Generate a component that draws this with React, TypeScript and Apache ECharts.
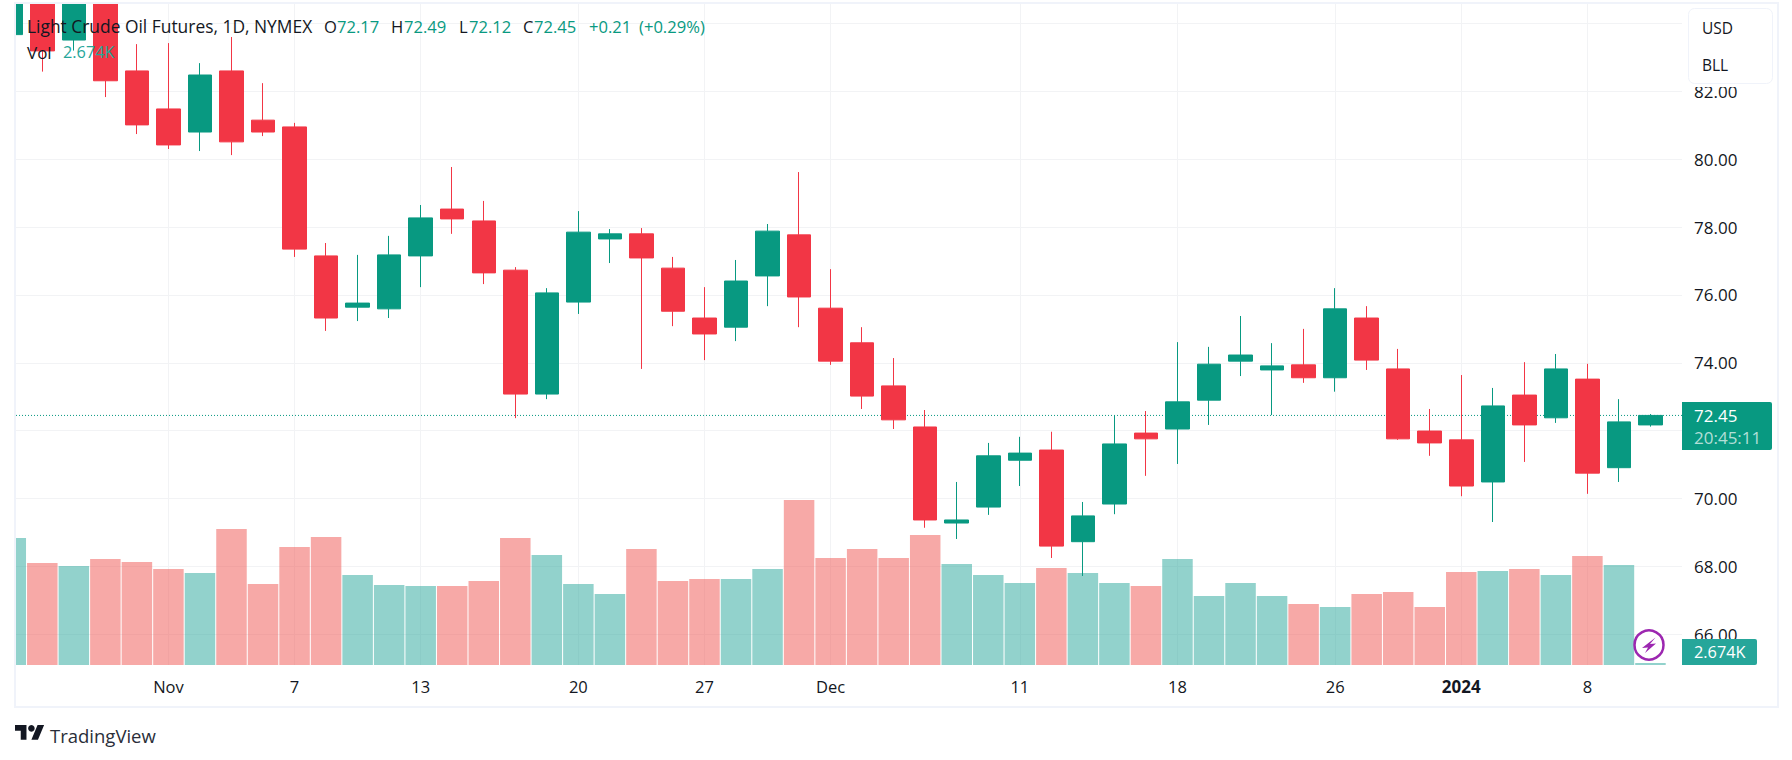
import React, { useEffect, useRef } from "react";
import * as echarts from "echarts";

const opens = [83.67,85.2,83.51,85.4,82.6,81.48,80.8,82.6,81.15,80.95,77.15,75.64,75.59,77.15,78.53,78.18,76.73,73.08,75.79,77.65,77.8,76.79,75.32,75.05,76.56,77.77,75.61,74.59,73.32,72.11,69.28,69.75,71.13,71.43,68.73,69.84,71.93,72.05,72.9,74.05,73.79,73.94,73.56,75.32,73.82,71.99,71.73,70.49,73.05,72.38,73.52,70.91,72.17];
const closes = [85,83.19,85.3,82.31,81.01,80.42,82.48,80.51,80.8,77.35,75.32,75.76,77.18,78.27,78.24,76.65,73.08,76.06,77.85,77.8,77.09,75.52,74.85,76.41,77.88,75.94,74.05,73.02,72.32,69.37,69.37,71.26,71.34,68.6,69.49,71.61,71.76,72.85,73.96,74.23,73.91,73.56,75.59,74.08,71.76,71.64,70.37,72.73,72.17,73.82,70.75,72.26,72.45];
const lows = [83.4,82.58,83.2,81.83,80.74,80.3,80.24,80.12,80.68,77.12,74.94,75.23,75.32,76.23,77.8,76.32,72.37,72.93,75.44,76.94,73.82,75.08,74.08,74.64,75.67,75.05,73.94,72.64,72.05,69.14,68.81,69.52,70.37,68.25,67.72,69.54,70.67,71.02,72.17,73.61,72.46,73.41,73.15,73.79,71.73,71.26,70.07,69.31,71.08,72.23,70.14,70.49,72.12];
const highs = [85.2,85.5,85.5,85.6,83.39,83.42,82.83,83.6,82.24,81.07,77.53,77.18,77.74,78.65,79.77,78.77,76.82,76.2,78.47,77.94,77.97,77.12,76.23,77.03,78.09,79.62,76.76,75.05,74.14,72.61,70.49,71.64,71.82,71.97,69.9,72.46,72.58,74.61,74.47,75.38,74.58,75,76.2,75.67,74.41,72.64,73.64,73.26,74.02,74.26,73.97,72.93,72.49];
const volumes = [169.8,136.4,132.4,141.8,137.8,128.4,123,181.9,108.3,157.8,171.2,120.4,107,105.7,105.7,112.3,169.8,147.1,108.3,95,155.1,112.3,115,115,128.4,220.7,143.1,155.1,143.1,173.9,135.1,120.4,109.7,129.7,123,109.7,105.7,141.8,92.3,109.7,92.3,81.6,77.6,95,97.6,77.6,124.4,125.7,128.4,120.4,145.8,133.7,2.674];

const timeTickIndices = [5, 9, 13, 18, 22, 26, 32, 37, 42, 46, 50];
const timeTickLabels = ["Nov", "7", "13", "20", "27", "Dec", "11", "18", "26", "2024", "8"];
const priceGridTicks = [66, 68, 70, 72, 74, 76, 78, 80, 82, 84];
const priceLabelTicks = [66, 68, 70, 74, 76, 78, 80, 82];
const lastPrice = 72.45;

const UP = "#089981";
const DOWN = "#F23645";
const VOL_UP = "rgba(38,166,154,0.5)";
const VOL_DOWN = "rgba(239,83,80,0.5)";
const INK = "#131722";
const GRID = "#f2f3f5";
const FONT = "'Open Sans', sans-serif";

const TV_T = "M14 25H7V14H0V7h14v18zM28 25h-8l7.5-18h8L28 25z";

export default function App() {
  const ref = useRef<HTMLDivElement>(null);
  useEffect(() => {
    echarts.graphic.registerShape("tvlogo", echarts.graphic.extendPath(TV_T, {}));
    const chart = echarts.init(ref.current!, null, { renderer: "svg", width: 1792, height: 760 });

    const xMin = 0.166;
    const xMax = 53;
    const candleData = opens.map((o, i) => [i, o, closes[i], lows[i], highs[i]]);
    const volData = volumes.map((v, i) => ({
      value: [i, v],
      itemStyle: { color: closes[i] >= opens[i] ? VOL_UP : VOL_DOWN },
    }));

    const txt = (text: string, x: number, y: number, fill: string, fontSize = 16.6) => ({
      type: "text",
      z: 100,
      x,
      y,
      style: { text, fill, font: `normal ${fontSize}px ${FONT}`, verticalAlign: "middle" },
    });

    chart.setOption({
      animation: false,
      backgroundColor: "#ffffff",
      grid: { left: 16, right: 110, top: 4, bottom: 95, containLabel: false },
      xAxis: {
        type: "value",
        min: xMin,
        max: xMax,
        axisLine: { show: false },
        axisTick: { show: false, customValues: timeTickIndices },
        splitLine: { show: true, lineStyle: { color: GRID, width: 1 } },
        axisLabel: {
          customValues: timeTickIndices,
          color: INK,
          fontFamily: FONT,
          fontSize: 16.5,
          margin: 13,
          formatter: (v: number) => {
            const label = timeTickLabels[timeTickIndices.indexOf(v)] ?? "";
            return label === "2024" ? `{b|${label}}` : label;
          },
          rich: { b: { fontWeight: "bold", color: INK, fontFamily: FONT, fontSize: 17 } },
        },
      },
      yAxis: [
        {
          type: "value",
          position: "right",
          min: 65.097,
          max: 84.572,
          axisLine: { show: false },
          axisTick: { show: false, customValues: priceGridTicks },
          splitLine: { show: true, lineStyle: { color: GRID, width: 1 } },
          axisLabel: {
            customValues: priceLabelTicks,
            color: INK,
            fontFamily: FONT,
            fontSize: 17,
            margin: 12,
            padding: [0, 0, 2, 0],
            formatter: (v: number) => v.toFixed(2),
          },
        },
        { type: "value", show: false, min: 0, max: 884, splitLine: { show: false } },
      ],
      series: [
        {
          type: "bar",
          name: "Vol",
          yAxisIndex: 1,
          barWidth: 30.5,
          data: volData,
          z: 2,
        },
        {
          type: "line",
          name: "Last",
          yAxisIndex: 0,
          showSymbol: false,
          symbol: "none",
          data: [[xMin, lastPrice], [xMax, lastPrice]],
          lineStyle: { color: UP, width: 1, type: [1, 2] },
          z: 3,
        },
        {
          type: "candlestick",
          name: "Light Crude Oil Futures",
          yAxisIndex: 0,
          barWidth: 24,
          data: candleData,
          itemStyle: { color: UP, color0: DOWN, borderColor: UP, borderColor0: DOWN, borderWidth: 1 },
          z: 4,
        },
      ],
      graphic: [
        // masks for the parts of the first bars that fall left of and above the pane
        { type: "rect", z: 80, shape: { x: 0, y: 0, width: 15, height: 708 }, style: { fill: "#ffffff" } },
        { type: "rect", z: 80, shape: { x: 0, y: 0, width: 1792, height: 3 }, style: { fill: "#ffffff" } },
        { type: "rect", z: 90, shape: { x: 15, y: 3, width: 1763, height: 704 }, style: { fill: "none", stroke: "#f0f3fa", lineWidth: 2 } },
        // legend
        txt("Light Crude Oil Futures, 1D, NYMEX", 27, 26, INK, 17.4),
        txt("O", 324, 26, INK),
        txt("72.17", 337, 26, UP),
        txt("H", 391, 26, INK),
        txt("72.49", 404, 26, UP),
        txt("L", 459, 26, INK),
        txt("72.12", 469, 26, UP),
        txt("C", 523, 26, INK),
        txt("72.45", 534, 26, UP),
        txt("+0.21", 589, 26, UP),
        txt("(+0.29%)", 639, 26, UP),
        txt("Vol", 27, 52, INK, 17),
        txt("2.674K", 63, 52, "#26a69a", 16.3),
        // unit box
        { type: "rect", z: 94, shape: { x: 1684, y: 5, width: 92, height: 82 }, style: { fill: "#ffffff" } },
        { type: "rect", z: 95, shape: { x: 1688.5, y: 8.5, width: 84, height: 75, r: 6 }, style: { fill: "#ffffff", stroke: "#f0f3fa", lineWidth: 1 } },
        txt("USD", 1702, 28, INK, 15.5),
        txt("BLL", 1702, 65, INK, 15.5),
        // last price badge
        { type: "rect", z: 95, shape: { x: 1682, y: 402, width: 90, height: 48, r: [0, 2, 2, 0] }, style: { fill: UP } },
        txt("72.45", 1694, 415, "#ffffff", 17),
        txt("20:45:11", 1694, 437, "rgba(255,255,255,0.7)", 17),
        // volume badge
        { type: "rect", z: 95, shape: { x: 1682, y: 639, width: 75, height: 26, r: [0, 2, 2, 0] }, style: { fill: "#26a69a" } },
        txt("2.674K", 1694, 652, "#ffffff", 16.3),
        // lightning icon
        { type: "circle", z: 96, shape: { cx: 1649, cy: 645, r: 14.5 }, style: { fill: "#ffffff", stroke: "#9c27b0", lineWidth: 2.5 } },
        { type: "polygon", z: 97, shape: { points: [[1655.5, 637.5], [1642, 648], [1648, 647.5], [1645, 653], [1656, 643.5], [1650, 644]] }, style: { fill: "#9c27b0" } },
        // logo
        { type: "tvlogo", z: 97, x: 15, y: 719.3, scaleX: 0.82, scaleY: 0.82, style: { fill: INK } },
        { type: "circle", z: 97, shape: { cx: 31.4, cy: 728.3, r: 3.3 }, style: { fill: INK } },
        txt("TradingView", 50, 735, "#2a2e39", 18.5),
      ],
    });
    return () => chart.dispose();
  }, []);
  return <div ref={ref} style={{ position: "fixed", left: 0, top: 0, width: 1792, height: 760 }} />;
}
